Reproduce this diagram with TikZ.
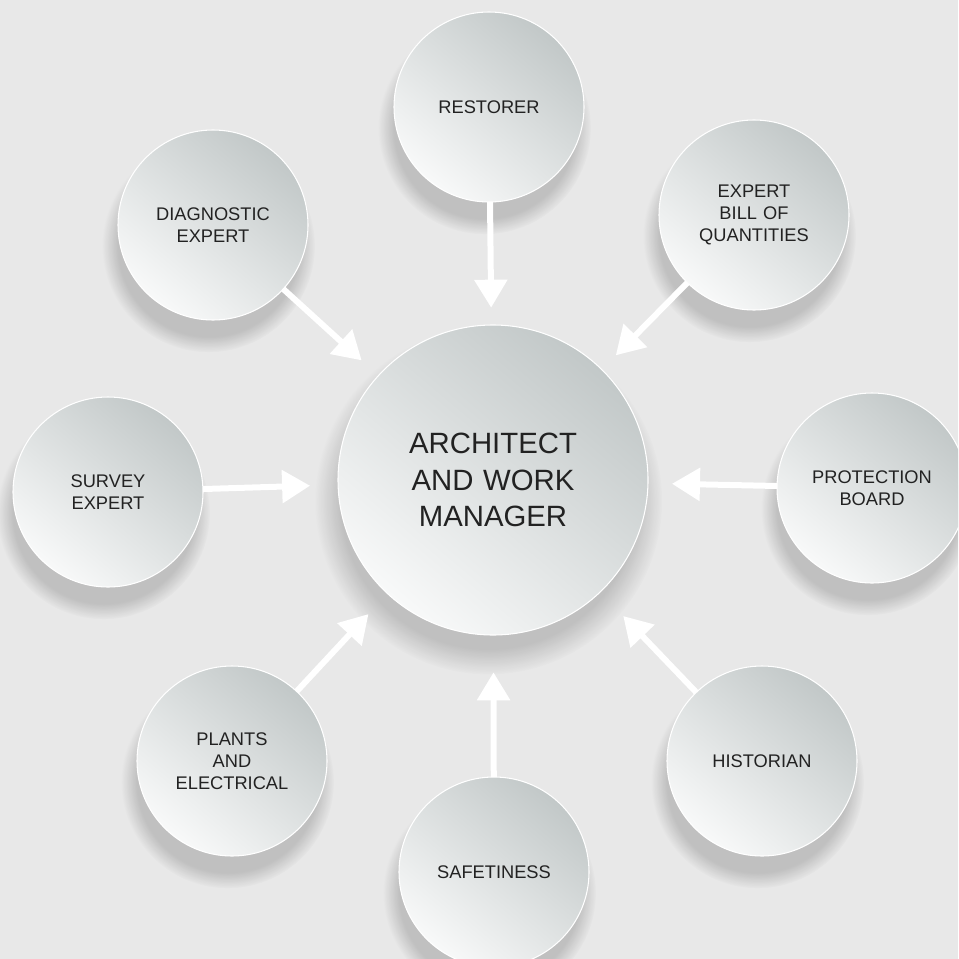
\documentclass[tikz,border=0pt]{standalone}
\usepackage{fontspec}
\setmainfont{Liberation Sans}
\usetikzlibrary{arrows.meta,shadows}

\definecolor{backdrop}{RGB}{232,232,232}
\definecolor{discdark}{RGB}{194,200,200}
\definecolor{disclight}{RGB}{248,249,249}
\definecolor{labeltext}{RGB}{34,34,34}

\begin{document}
\begin{tikzpicture}[x=0.75pt,y=-0.75pt,
  disc/.style={circle,draw=white,line width=0.8pt,inner sep=0pt,outer sep=0pt,
    top color=discdark,bottom color=disclight,shading angle=-40,
    circular drop shadow={shadow xshift=-3pt,shadow yshift=-14pt,shadow scale=1.12,opacity=0.17,fill=black},
    text=labeltext,align=center,font=\fontsize{13.7}{16.6}\selectfont},
  small/.style={disc,minimum size=142.5pt,text width=120pt},
  big/.style={disc,minimum size=232.5pt,text width=200pt,font=\fontsize{22}{27.5}\selectfont},
  flow/.style={white,line width=4.5pt,-{Triangle[width=24pt,length=21pt]}}]
\clip (0,0) rectangle (958,959);
\fill[backdrop] (0,0) rectangle (958,959);

\node[big] (manager) at (493,480) {ARCHITECT\\AND WORK\\MANAGER};

\node[small] (restorer) at (489,107) {RESTORER};
\node[small] (quantities) at (754,215) {EXPERT\\BILL OF\\QUANTITIES};
\node[small] (diagnostic) at (213,225) {DIAGNOSTIC\\EXPERT};
\node[small] (survey) at (108,492) {SURVEY\\EXPERT};
\node[small] (board) at (872,488) {PROTECTION\\BOARD};
\node[small] (plants) at (232,761) {PLANTS\\AND\\ELECTRICAL};
\node[small] (historian) at (762,761) {HISTORIAN};
\node[small] (safety) at (494,872) {SAFETINESS};

\draw[flow,shorten >=13pt] (restorer) -- (manager);
\draw[flow,shorten >=15pt] (quantities) -- (manager);
\draw[flow,shorten >=17pt] (diagnostic) -- (manager);
\draw[flow,shorten >=21pt] (survey) -- (manager);
\draw[flow,shorten >=18pt] (board) -- (manager);
\draw[flow,shorten >=21pt] (plants) -- (manager);
\draw[flow,shorten >=25pt] (historian) -- (manager);
\draw[flow,shorten >=28pt] (safety) -- (manager);
\end{tikzpicture}
\end{document}
